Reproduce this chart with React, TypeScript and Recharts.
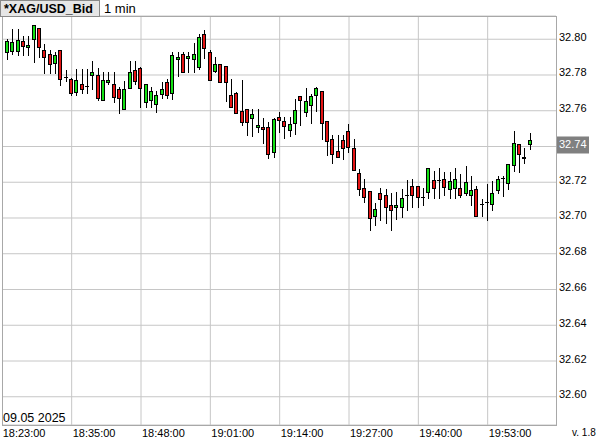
import { ComposedChart, Bar, XAxis, YAxis, CartesianGrid, ReferenceLine } from "recharts";

// 1-minute XAG/USD bid candles, 18:23 .. 20:01
const OPEN = [
  32.7926, 32.7935, 32.7935, 32.7989, 32.7954, 32.8, 32.8065, 32.7939, 32.792, 32.7865,
  32.7939, 32.7787, 32.7776, 32.7707, 32.775, 32.7737, 32.7798, 32.78, 32.7659, 32.7759,
  32.7748, 32.772, 32.7609, 32.7726, 32.7828, 32.7837, 32.7648, 32.7659, 32.7637, 32.7696,
  32.7761, 32.7698, 32.7887, 32.7916, 32.7897, 32.7888, 32.7847, 32.8028, 32.7927, 32.7825,
  32.786, 32.7849, 32.7688, 32.7698, 32.7597, 32.7608, 32.7558, 32.7507, 32.7509, 32.7509,
  32.7371, 32.7563, 32.754, 32.7493, 32.7534, 32.7681, 32.7591, 32.7634, 32.769, 32.7712,
  32.754, 32.7444, 32.7373, 32.7435, 32.7484, 32.7394, 32.7253, 32.7167, 32.7152, 32.7009,
  32.7139, 32.713, 32.7074, 32.7061, 32.7061, 32.713, 32.718, 32.718, 32.7115, 32.7148,
  32.7213, 32.7213, 32.7219, 32.7163, 32.7169, 32.7169, 32.7141, 32.7128, 32.7165, 32.7079,
  32.7089, 32.7079, 32.7154, 32.7225, 32.7194, 32.7297, 32.7413, 32.7334, 32.7413,
];
const HIGH = [
  32.8004, 32.8056, 32.8056, 32.8019, 32.8019, 32.8078, 32.8065, 32.7976, 32.7939, 32.793,
  32.7939, 32.7828, 32.7785, 32.7833, 32.7833, 32.7833, 32.788, 32.7837, 32.7819, 32.7819,
  32.7815, 32.7735, 32.7769, 32.788, 32.788, 32.7846, 32.7748, 32.7735, 32.7713, 32.7763,
  32.778, 32.7926, 32.7926, 32.7931, 32.7927, 32.7978, 32.8028, 32.8052, 32.794, 32.7899,
  32.7864, 32.7853, 32.7776, 32.7707, 32.7772, 32.7608, 32.7608, 32.7608, 32.7558, 32.7539,
  32.7562, 32.7591, 32.7563, 32.7563, 32.7666, 32.7684, 32.7726, 32.7694, 32.7735, 32.7712,
  32.754, 32.7465, 32.7465, 32.7465, 32.7525, 32.7444, 32.7272, 32.7219, 32.7152, 32.7083,
  32.7167, 32.7163, 32.7139, 32.7144, 32.7163, 32.7213, 32.7219, 32.718, 32.7167, 32.7278,
  32.7265, 32.7278, 32.7259, 32.7259, 32.7282, 32.7244, 32.7291, 32.7235, 32.7178, 32.7109,
  32.7188, 32.7207, 32.7235, 32.7235, 32.73, 32.7488, 32.7413, 32.7394, 32.7473,
];
const LOW = [
  32.7887, 32.792, 32.7911, 32.7911, 32.7911, 32.7874, 32.7898, 32.7813, 32.7813, 32.7813,
  32.7744, 32.7765, 32.7689, 32.7689, 32.7702, 32.7698, 32.7724, 32.7661, 32.7659, 32.7748,
  32.7648, 32.7587, 32.7609, 32.7726, 32.7748, 32.7619, 32.7619, 32.7619, 32.7593, 32.7674,
  32.7674, 32.7667, 32.7796, 32.7815, 32.7815, 32.7815, 32.7834, 32.7897, 32.7772, 32.7815,
  32.7759, 32.7657, 32.7621, 32.7586, 32.7521, 32.7465, 32.7459, 32.7483, 32.7418, 32.7334,
  32.7343, 32.7482, 32.7446, 32.7459, 32.7469, 32.7521, 32.7568, 32.7531, 32.76, 32.7441,
  32.7353, 32.731, 32.7343, 32.7328, 32.7369, 32.7268, 32.7128, 32.7089, 32.6931, 32.6959,
  32.6987, 32.6972, 32.6931, 32.6996, 32.7006, 32.7046, 32.7061, 32.7061, 32.7074, 32.7111,
  32.7111, 32.7111, 32.713, 32.7111, 32.7113, 32.7117, 32.7128, 32.7072, 32.7013, 32.701,
  32.6987, 32.7047, 32.7141, 32.7122, 32.716, 32.7263, 32.7259, 32.731, 32.7385,
];
const CLOSE = [
  32.7991, 32.7985, 32.7998, 32.7963, 32.7967, 32.8078, 32.7954, 32.7898, 32.7859, 32.7911,
  32.7776, 32.7787, 32.7698, 32.7772, 32.772, 32.7737, 32.7815, 32.7674, 32.777, 32.7772,
  32.7676, 32.7669, 32.772, 32.7815, 32.7769, 32.7726, 32.7748, 32.7711, 32.7687, 32.7722,
  32.7687, 32.7911, 32.79, 32.7815, 32.7908, 32.7916, 32.8015, 32.795, 32.7772, 32.7864,
  32.7759, 32.7759, 32.7621, 32.7586, 32.7535, 32.7535, 32.758, 32.752, 32.7496, 32.7356,
  32.7553, 32.7549, 32.7512, 32.7525, 32.7604, 32.7662, 32.7652, 32.7681, 32.7726, 32.7534,
  32.7431, 32.736, 32.7343, 32.739, 32.7398, 32.7268, 32.7163, 32.7117, 32.7, 32.7052,
  32.7107, 32.7061, 32.7046, 32.7074, 32.7111, 32.713, 32.713, 32.7117, 32.7115, 32.7278,
  32.7167, 32.7213, 32.7176, 32.7209, 32.7216, 32.7128, 32.7203, 32.7154, 32.7013, 32.7079,
  32.7089, 32.7141, 32.7216, 32.7225, 32.73, 32.7422, 32.7357, 32.7343, 32.7435,
];

const X_TICK_IDX = [0, 12, 25, 38, 51, 64, 77, 90];
const X_TICK_LABELS = ["18:23:00", "18:35:00", "18:48:00", "19:01:00", "19:14:00", "19:27:00", "19:40:00", "19:53:00"];
const Y_TICKS = [32.6, 32.62, 32.64, 32.66, 32.68, 32.7, 32.72, 32.74, 32.76, 32.78, 32.8];
const Y_MIN = 32.5842;
const Y_MAX = 32.813;

const FONT = "'Liberation Sans', Arial, sans-serif";
const UP = "#14e014";
const DOWN = "#e41414";
const GRID = "#c6c6c6";
const FRAME = "#a8a8a8";

const LAST_LABEL = CLOSE[CLOSE.length - 1].toFixed(2);

const data = OPEN.map((o, i) => ({
  i,
  o,
  h: HIGH[i],
  l: LOW[i],
  c: CLOSE[i],
  range: [LOW[i], HIGH[i]],
}));

function Candle(props: any) {
  const { x, y, width, height, payload } = props;
  if (x == null || !payload) return null;
  const { o, h, l, c } = payload;
  const top = Math.min(y, y + height);
  const k = Math.abs(height) / (h - l);
  const py = (v: number) => top + (h - v) * k;
  const p = Math.round(x + width / 2 - 0.5);
  const wx = p + 0.5;
  const yHi = Math.round(py(h));
  const yLo = Math.round(py(l)) + 1;

  if (o === c) {
    const yy = Math.round(py(o)) + 0.5;
    return (
      <g>
        <line x1={wx} x2={wx} y1={yHi} y2={yLo} stroke="#000" />
        <line x1={p - 2} x2={p + 2} y1={yy} y2={yy} stroke="#000" />
      </g>
    );
  }
  const yTop = Math.round(py(Math.max(o, c))) + 0.5;
  const yBot = Math.round(py(Math.min(o, c))) + 0.5;
  return (
    <g>
      <line x1={wx} x2={wx} y1={yHi} y2={yLo} stroke="#000" />
      <rect
        x={p - 1.5}
        y={yTop}
        width={3}
        height={Math.max(yBot - yTop, 1)}
        fill={c > o ? UP : DOWN}
        stroke="#000"
      />
    </g>
  );
}

function PriceTick({ x, y, payload }: any) {
  const label = Number(payload.value).toFixed(2);
  if (label === LAST_LABEL) {
    return (
      <g>
        <rect x={x - 2} y={y - 10} width={32} height={17} fill="#808080" />
        <text x={x} y={y + 1.5} fill="#fff" fontSize={11} fontFamily={FONT}>
          {label}
        </text>
      </g>
    );
  }
  return (
    <text x={x} y={y + 1.5} fill="#000" fontSize={11} fontFamily={FONT}>
      {label}
    </text>
  );
}

function TimeTick({ x, y, payload }: any) {
  const idx = X_TICK_IDX.indexOf(payload.value);
  const tx = payload.value === 0 ? x - 5 : x + 1;
  return (
    <text x={tx} y={y + 12} fill="#000" fontSize={11} fontFamily={FONT}>
      {X_TICK_LABELS[idx]}
    </text>
  );
}

export default function App() {
  return (
    <div style={{ position: "absolute", left: 0, top: 0, width: 600, height: 438, background: "#fff" }}>
      <ComposedChart
        width={600}
        height={438}
        data={data}
        margin={{ top: 16, right: 0, bottom: 0, left: 2 }}
      >
        <CartesianGrid vertical={false} stroke={GRID} />
        {X_TICK_IDX.slice(1).map((i) => (
          <ReferenceLine key={i} x={i} stroke={GRID} zIndex={-100} />
        ))}
        <XAxis
          dataKey="i"
          type="category"
          ticks={X_TICK_IDX}
          interval={0}
          padding={{ left: 3, right: 23 }}
          height={13}
          tickSize={0}
          tickMargin={0}
          axisLine={false}
          tick={<TimeTick />}
        />
        <YAxis
          orientation="right"
          width={44}
          domain={[Y_MIN, Y_MAX]}
          ticks={Y_TICKS}
          allowDataOverflow
          tickSize={0}
          tickMargin={3}
          axisLine={false}
          tick={<PriceTick />}
        />
        <Bar dataKey="range" shape={<Candle />} isAnimationActive={false} />
      </ComposedChart>
      <svg
        width={600}
        height={438}
        style={{ position: "absolute", left: 0, top: 0, pointerEvents: "none" }}
      >
        <rect x={2.5} y={16.5} width={554} height={409} fill="none" stroke={FRAME} />
        <rect x={0.5} y={0.5} width={99} height={16} fill="#e6e6e6" stroke="#8a8a8a" />
        <text x={4} y={13} fontSize={12.5} fontWeight="bold" fontFamily={FONT} fill="#000">
          *XAG/USD_Bid
        </text>
        <text x={104} y={13} fontSize={13} fontFamily={FONT} fill="#000">
          1 min
        </text>
        <text x={3} y={422} fontSize={12.5} fontFamily={FONT} fill="#000">
          09.05 2025
        </text>
        <text x={572} y={436} fontSize={10} fontFamily={FONT} fill="#000">
          v. 1.8
        </text>
      </svg>
    </div>
  );
}
